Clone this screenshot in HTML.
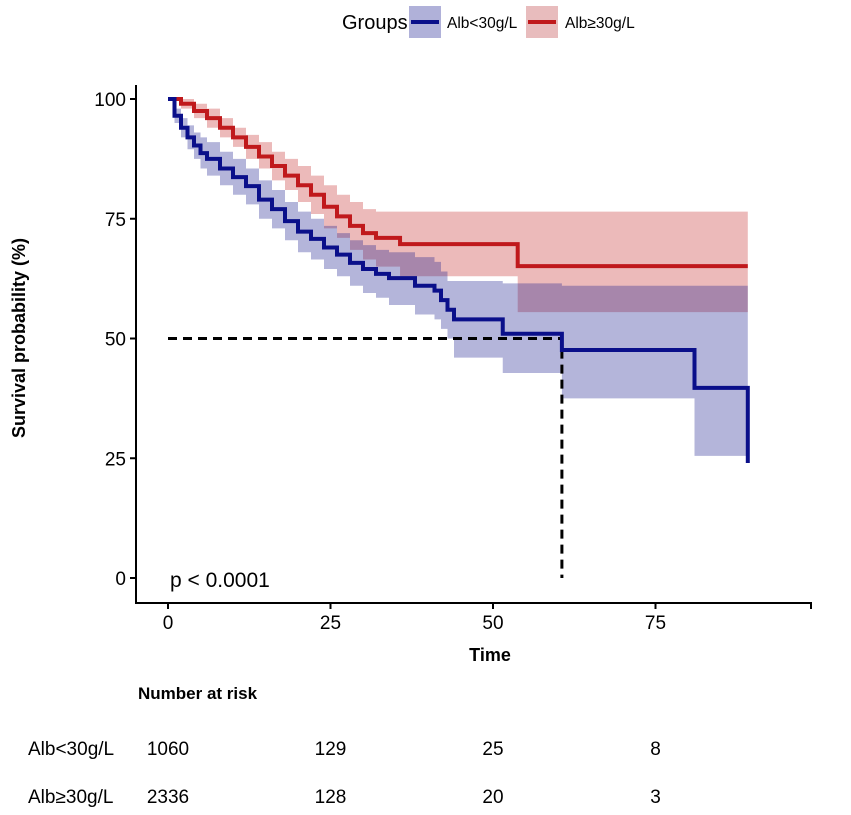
<!DOCTYPE html>
<html><head><meta charset="utf-8"><style>
body{margin:0;background:#fff;}
svg{display:block;font-family:"Liberation Sans",Arial,sans-serif;}
</style></head><body>
<svg id="chart" width="851" height="815" viewBox="0 0 851 815">
<g id="legend">
<text x="342" y="29" font-size="20" fill="#000">Groups</text>
<rect x="409" y="6" width="32" height="32" fill="#b0b1d9"/>
<line x1="411" y1="22" x2="439" y2="22" stroke="#0a0f8a" stroke-width="4"/>
<text x="447" y="28" font-size="15.5">Alb&lt;30g/L</text>
<rect x="526" y="6" width="32" height="32" fill="#e8bcbd"/>
<line x1="528" y1="22" x2="556" y2="22" stroke="#c0191c" stroke-width="4"/>
<text x="565" y="28" font-size="15.5">Alb≥30g/L</text>
</g>
<g id="bands"></g>
<g id="lines"></g>
<g id="axes"></g>
<text x="170" y="587" font-size="21">p &lt; 0.0001</text>
<text transform="translate(25,338) rotate(-90)" text-anchor="middle" font-size="18" font-weight="bold">Survival probability (%)</text>
<text x="490" y="661" text-anchor="middle" font-size="18" font-weight="bold">Time</text>
<text x="138" y="699" font-size="17" font-weight="bold">Number at risk</text>
<text x="28" y="755" font-size="19">Alb&lt;30g/L</text>
<text x="28" y="803" font-size="19">Alb≥30g/L</text>
<g id="risk"></g>
</svg>
<script>
const blueT=[0,1,2,3,4,5,6,8,10,12,14,16,18,20,22,24,26,28,30,32,34,38,41,42,43,44,51.5,60.6,81,89.2];
const blueS=[100,96.5,94,92,90.3,88.7,87.5,85.5,83.7,81.8,79,77,74.5,72.3,70.8,69,67.5,65.8,64.5,63.5,62.6,61,60,58,56,54,51,47.6,39.7,24];
const blueLo=[100,95,92,89.5,87.5,85.5,84,82,80,78,75,73,70.5,68,66.5,64.5,63,61,59.5,58.5,57,55,54,52,50,46,42.8,37.5,25.5,25.5];
const blueHi=[100,98,96,94.5,93,92,91,89,87.5,85.5,83,81,78.5,76.5,75,73.5,72,70.5,69.5,68.5,68,67,66,64,62,62,61.5,61,61,61];
const redT=[0,2,4,6,8,10,12,14,16,18,20,22,24,26,28,30,32,35.7,53.8,89.2];
const redS=[100,99,97.5,96,94,92,90,88,86,84,82,80,77.5,75.5,73.5,72,71,69.7,65.1,65.1];
const redLo=[100,98,96,94,92,90,87.5,85.5,83,81,78.5,76,73,71,68.5,66.5,65,63,55.5,55.5];
const redHi=[100,100,99,98,96,94,92.5,91,89,87.5,86,84,82,80,78.5,77,76.5,76.5,76.5,76.5];
const xTicks=[0,25,50,75,100];
const xTickLabels=["0","25","50","75",""];
const yTicks=[0,25,50,75,100];
const riskLow=[1060,129,25,8];
const riskHigh=[2336,128,20,3];
const median=60.6;
const NS="http://www.w3.org/2000/svg";
function X(t){return 168+t*6.5;}
function Y(s){return 578-s*4.79;}
function mk(tag,attrs,parent){const e=document.createElementNS(NS,tag);for(const k in attrs)e.setAttribute(k,attrs[k]);document.getElementById(parent).appendChild(e);return e;}
function stepPath(T,S){let d="M"+X(T[0])+","+Y(S[0]);for(let i=1;i<T.length;i++){d+=" H"+X(T[i])+" V"+Y(S[i]);}return d;}
function bandPath(T,L,H){const n=T.length;let d="M"+X(T[0])+","+Y(H[0]);for(let i=1;i<n-1;i++){d+=" H"+X(T[i])+" V"+Y(H[i]);}
d+=" H"+X(T[n-1])+" V"+Y(L[n-2]);
for(let i=n-2;i>0;i--){d+=" H"+X(T[i])+" V"+Y(L[i-1]);}d+=" H"+X(T[0])+"Z";return d;}
let b=mk("path",{d:bandPath(redT,redLo,redHi),fill:"#c0191c","fill-opacity":"0.3"},"bands");


b=mk("path",{d:bandPath(blueT,blueLo,blueHi),fill:"#1a1f8f","fill-opacity":"0.33"},"bands");


let m=mk("path",{d:"M"+X(0)+","+Y(50)+" H"+X(median)+" V"+Y(0),fill:"none",stroke:"#000","stroke-width":"3","stroke-dasharray":"9,6"},"lines");


let l=mk("path",{d:stepPath(redT,redS),fill:"none",stroke:"#c0191c","stroke-width":"4"},"lines");


l=mk("path",{d:stepPath(blueT,blueS),fill:"none",stroke:"#0a0f8a","stroke-width":"4"},"lines");


let a=mk("path",{d:"M136,85 V603 H812",fill:"none",stroke:"#000","stroke-width":"2"},"axes");


xTicks.forEach((v,i)=>{const xx=Math.min(X(v),811);
const t=mk("line",{x1:xx,x2:xx,y1:603,y2:609,stroke:"#000","stroke-width":"2"},"axes");


const tx=mk("text",{x:xx,y:629,"text-anchor":"middle","font-size":"19"},"axes");tx.textContent=xTickLabels[i];

});
yTicks.forEach(v=>{const t=mk("line",{x1:130,x2:136,y1:Y(v),y2:Y(v),stroke:"#000","stroke-width":"2"},"axes");


const tx=mk("text",{x:126,y:Y(v)+7,"text-anchor":"end","font-size":"19"},"axes");tx.textContent=v;

});
[[riskLow,755],[riskHigh,803]].forEach(([arr,y])=>arr.forEach((v,i)=>{
const tx=mk("text",{x:X(xTicks[i]),y:y,"text-anchor":"middle","font-size":"19"},"risk");tx.textContent=v;

}));
</script>
</body></html>
